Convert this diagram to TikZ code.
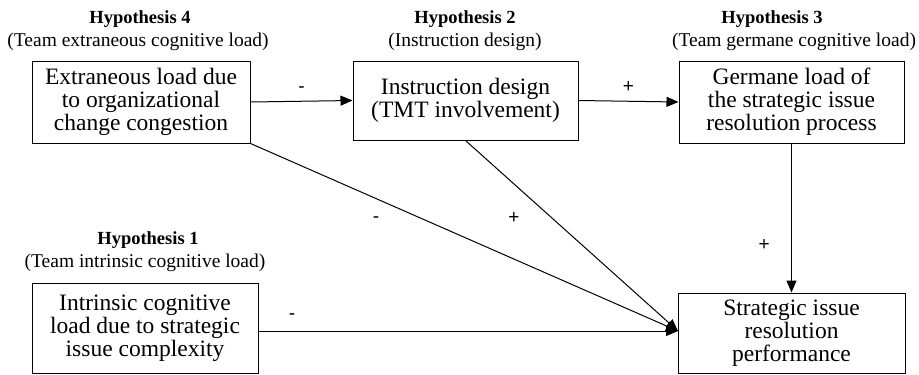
\documentclass[tikz,border=0pt]{standalone}
\usepackage{fontspec}
\setmainfont{Liberation Serif}
\newfontfamily\signfont{Liberation Sans}
\usetikzlibrary{arrows.meta}
\begin{document}
\begin{tikzpicture}[x=1pt,y=-1pt,
  boxnode/.style={draw,line width=1pt,inner sep=0pt,align=center,font=\fontsize{23.5}{23}\selectfont},
  hyp/.style={font=\bfseries\fontsize{18.5}{20}\selectfont},
  sub/.style={font=\fontsize{19.5}{20}\selectfont},
  sign/.style={font=\signfont\fontsize{19}{20}\selectfont},
  conn/.style={line width=1pt,-{Triangle[length=12pt,width=10pt]}}]
\useasboundingbox (0,0) rectangle (919,375);
\node[boxnode,minimum width=218pt,minimum height=82pt] (ext) at (141,102) {Extraneous load due\\to organizational\\change congestion};
\node[boxnode,minimum width=225pt,minimum height=79pt] (ins) at (465.5,100.5) {Instruction design\\(TMT involvement)};
\node[boxnode,minimum width=225pt,minimum height=82pt] (ger) at (791.5,102) {Germane load of\\the strategic issue\\resolution process};
\node[boxnode,minimum width=226pt,minimum height=90pt] (int) at (145,328) {Intrinsic cognitive\\load due to strategic\\issue complexity};
\node[boxnode,minimum width=227pt,minimum height=80pt] (str) at (791.5,333) {Strategic issue\\resolution\\performance};
\node[hyp] (h4) at (140,19) {Hypothesis 4};
\node[sub] (h4s) at (138,42) {(Team extraneous cognitive load)};
\node[hyp] (h2) at (465,19) {Hypothesis 2};
\node[sub] (h2s) at (465,42) {(Instruction design)};
\node[hyp] (h3) at (772,19) {Hypothesis 3};
\node[sub] (h3s) at (794,42) {(Team germane cognitive load)};
\node[hyp] (h1) at (148,240) {Hypothesis 1};
\node[sub] (h1s) at (145,263) {(Team intrinsic cognitive load)};
\coordinate (tip) at (678,331);
\draw[conn] (ext.east) -- (ins.west) node[sign,pos=0.5,above=5pt] {-};
\draw[conn] (ins.east) -- (ger.west) node[sign,pos=0.5,above=5pt] {+};
\draw[conn] (ger.south) -- (str.north) node[sign,pos=0.68,left=18pt] {+};
\draw[conn] (int.east |- tip) -- (tip) node[sign,pos=0.08,above=8pt] {-};
\draw[conn] (ext.south east) -- (tip);
\draw[conn] (ins.south) -- (tip);
\node[sign] (m1) at (376,220) {-};
\node[sign] (p1) at (514,218) {+};
\end{tikzpicture}
\end{document}
